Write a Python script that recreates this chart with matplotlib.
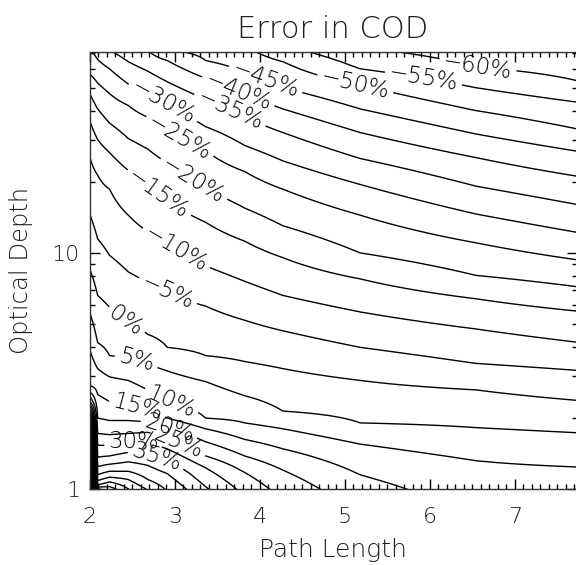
import numpy as np
import matplotlib
matplotlib.use("Agg")
import matplotlib.pyplot as plt
from matplotlib.ticker import MultipleLocator, FixedLocator, FuncFormatter, NullFormatter, LogLocator

path_length = [2.00, 2.09, 2.23, 2.45, 2.68, 2.91, 3.36, 3.82, 4.27, 5.18, 6.54, 7.75]

# log10(optical depth) where each error level (%) crosses each column (None = not read)
err_m60 = [2.40, 2.38, 2.35, 2.30, 2.25, 2.20, 2.12, 2.05, 1.97, 1.87, 1.787, 1.728]
err_m55 = [2.30, 2.28, 2.25, 2.20, 2.15, 2.10, 2.03, 1.96, 1.88, 1.78, 1.70, 1.638]
err_m50 = [2.20, 2.18, 2.15, 2.10, 2.05, 2.01, 1.95, 1.88, 1.81, 1.71, 1.603, 1.524]
err_m45 = [2.08, 2.06, 2.00, 1.95, 1.90, 1.86, 1.815, 1.765, 1.70, 1.61, 1.504, 1.43]
err_m40 = [2.02, 1.99, 1.95, 1.90, 1.86, 1.815, 1.74, 1.67, 1.61, 1.51, 1.404, 1.324]
err_m35 = [1.95, 1.92, 1.86, 1.81, 1.77, 1.725, 1.65, 1.58, 1.51, 1.40, 1.283, 1.204]
err_m30 = [1.87, 1.82, 1.78, 1.716, 1.675, 1.63, 1.535, 1.455, 1.39, 1.29, 1.165, 1.086]
err_m25 = [1.757, 1.72, 1.675, 1.625, 1.575, 1.52, 1.435, 1.345, 1.27, 1.16, 1.043, 0.97]
err_m20 = [1.672, 1.61, 1.55, 1.485, 1.44, 1.38, 1.27, 1.19, 1.115, 1.00, 0.905, 0.856]
err_m15 = [1.557, 1.48, 1.425, 1.35, 1.285, 1.225, 1.13, 1.05, 0.98, 0.89, 0.806, 0.753]
err_m10 = [1.404, 1.33, 1.27, 1.16, 1.09, 1.04, 0.945, 0.88, 0.82, 0.75, 0.678, 0.621]
err_m05 = [1.162, 1.06, 0.99, 0.92, 0.875, 0.834, 0.775, 0.715, 0.67, 0.60, 0.532, 0.502]
err_p00 = [0.928, 0.82, 0.77, 0.70, 0.655, 0.60, 0.565, 0.54, 0.51, 0.46, 0.42, 0.375]
err_p05 = [0.745, 0.62, 0.565, 0.555, 0.53, 0.50, 0.455, 0.395, 0.33, 0.28, 0.26, 0.238]
err_p10 = [0.587, 0.51, 0.475, 0.46, 0.42, 0.37, 0.30, 0.28, 0.255, 0.19, 0.12, 0.093]
err_p15 = [0.438, 0.40, 0.37, 0.355, 0.33, 0.30, 0.255, 0.21, 0.17, 0.06, -0.12, -0.06]
err_p20 = [0.41, 0.30, 0.29, 0.29, 0.285, 0.26, 0.20, 0.14, 0.08, -0.12, None, None]
err_p25 = [None, 0.235, 0.23, 0.235, 0.24, 0.215, 0.14, 0.07, -0.05, None, None, None]
err_p30 = [0.37, 0.185, 0.185, 0.20, 0.20, 0.17, 0.09, -0.03, -0.15, None, None, None]
err_p35 = [None, 0.135, 0.14, 0.155, 0.15, 0.12, 0.01, -0.12, None, None, None, None]
err_p40 = [None, 0.095, 0.105, 0.115, 0.10, 0.065, -0.08, None, None, None, None, None]
err_p45 = [None, 0.06, 0.075, 0.075, 0.04, -0.01, None, None, None, None, None, None]
err_p50 = [0.32, 0.035, 0.05, 0.04, -0.005, -0.06, None, None, None, None, None, None]
err_p55 = [None, 0.018, 0.03, 0.0, -0.05, None, None, None, None, None, None, None]
err_p60 = [None, 0.008, 0.01, -0.03, None, None, None, None, None, None, None, None]
err_p65 = [None, 0.0, -0.01, None, None, None, None, None, None, None, None, None]
err_p70 = [None, -0.01, None, None, None, None, None, None, None, None, None, None]
err_p80 = [None, None, -0.05, -0.10, -0.20, -0.30, -0.50, -0.60, -0.70, -0.80, -1.0, -1.0]
err_p100 = [0.24, -0.05, None, None, None, None, None, None, None, None, None, None]
err_p200 = [0.13, None, None, None, None, None, None, None, None, None, None, None]
err_p300 = [0.04, None, None, None, None, None, None, None, None, None, None, None]
err_p400 = [-0.05, None, None, None, None, None, None, None, None, None, None, None]

crossing_levels = [-60, -55, -50, -45, -40, -35, -30, -25, -20, -15, -10, -5, 0, 5, 10,
                   15, 20, 25, 30, 35, 40, 45, 50, 55, 60, 65, 70, 80, 100, 200, 300, 400]
crossing_rows = [err_m60, err_m55, err_m50, err_m45, err_m40, err_m35, err_m30, err_m25,
                 err_m20, err_m15, err_m10, err_m05, err_p00, err_p05, err_p10,
                 err_p15, err_p20, err_p25, err_p30, err_p35, err_p40, err_p45, err_p50,
                 err_p55, err_p60, err_p65, err_p70, err_p80, err_p100, err_p200,
                 err_p300, err_p400]

# Where the contour labels sit (path length, optical depth)
label_levels = [-60, -55, -50, -45, -40, -35, -30, -25, -20, -15, -10, -5, 0, 5, 10,
                15, 20, 25, 30, 35]
label_x = [6.56, 5.92, 5.12, 4.06, 3.74, 3.65, 2.86, 3.03, 3.21, 2.80, 3.01, 2.91, 2.41,
           2.55, 2.95, 2.56, 2.94, 3.06, 2.51, 2.80]
label_y = [61.2, 53.7, 51.9, 53.5, 47.9, 40.6, 43.4, 30.0, 20.2, 17.7, 10.4, 6.82, 5.08,
           3.54, 2.32, 2.21, 1.85, 1.63, 1.70, 1.42]

# ---- build the field table that contour() needs ----
log_grid = np.linspace(-0.08, 1.95, 700)
Z = np.empty((len(log_grid), len(path_length)))
for j in range(len(path_length)):
    pts = [(row[j], lev) for lev, row in zip(crossing_levels, crossing_rows) if row[j] is not None]
    pts.append((3.0, -100.0))
    pts.sort()
    Z[:, j] = np.interp(log_grid, [p[0] for p in pts], [p[1] for p in pts])
depth = 10.0 ** log_grid

plt.rcParams['font.family'] = ['DejaVu Sans']
plt.rcParams['font.weight'] = 'light'
plt.rcParams['contour.negative_linestyle'] = 'solid'
txt_color = '#1e1e1e'

fig = plt.figure(figsize=(5.76, 5.65), dpi=100)
W, H = 576.0, 565.0
ax = fig.add_axes([90 / W, (H - 489) / H, 487 / W, 437 / H])

all_levels = np.arange(-60, 405, 5)
plain_levels = [lv for lv in all_levels if lv not in label_levels]
ax.contour(path_length, depth, Z, levels=plain_levels, colors='black',
           linewidths=1.0, linestyles='solid')

ax.set_yscale('log')
ax.set_xlim(2.0, 7.73)
ax.set_ylim(1.0, 71.0)


def fmt(v):
    v = int(round(v))
    return ("\u2212%d%%" % (-v)) if v < 0 else ("%d%%" % v)


for lev, lx, ly in zip(label_levels, label_x, label_y):
    cs1 = ax.contour(path_length, depth, Z, levels=[lev], colors='black',
                     linewidths=1.0, linestyles='solid')
    ax.clabel(cs1, manual=[(lx, ly)], fmt=fmt, fontsize=16.5,
              inline=True, inline_spacing=4, colors='black')

ax.xaxis.set_major_locator(MultipleLocator(1))
ax.xaxis.set_minor_locator(MultipleLocator(0.1))
ax.yaxis.set_major_locator(FixedLocator([1, 10]))
ax.yaxis.set_major_formatter(FuncFormatter(lambda v, p: "%g" % v))
ax.yaxis.set_minor_locator(LogLocator(base=10, subs=np.arange(2, 10)))
ax.yaxis.set_minor_formatter(NullFormatter())

ax.tick_params(which='both', direction='in', top=True, right=True, colors='black',
               labelcolor=txt_color, width=1.0)
ax.tick_params(which='major', length=7.5)
ax.tick_params(which='minor', length=3.5)
ax.tick_params(axis='x', which='major', pad=13, labelsize=16)
ax.tick_params(axis='y', which='major', pad=7, labelsize=16)
for s in ax.spines.values():
    s.set_linewidth(1.0)
    s.set_color('#333333')

fig.text(333 / W, 1 - 38 / H, "Error in COD", ha='center', va='baseline',
         fontsize=22, color=txt_color)
fig.text(333 / W, 1 - 557 / H, "Path Length", ha='center', va='baseline',
         fontsize=18, color=txt_color)
fig.text(21 / W, 1 - 270 / H, "Optical Depth", ha='center', va='center',
         rotation=90, fontsize=17.5, color=txt_color)

fig.savefig("out.png", dpi=100)
